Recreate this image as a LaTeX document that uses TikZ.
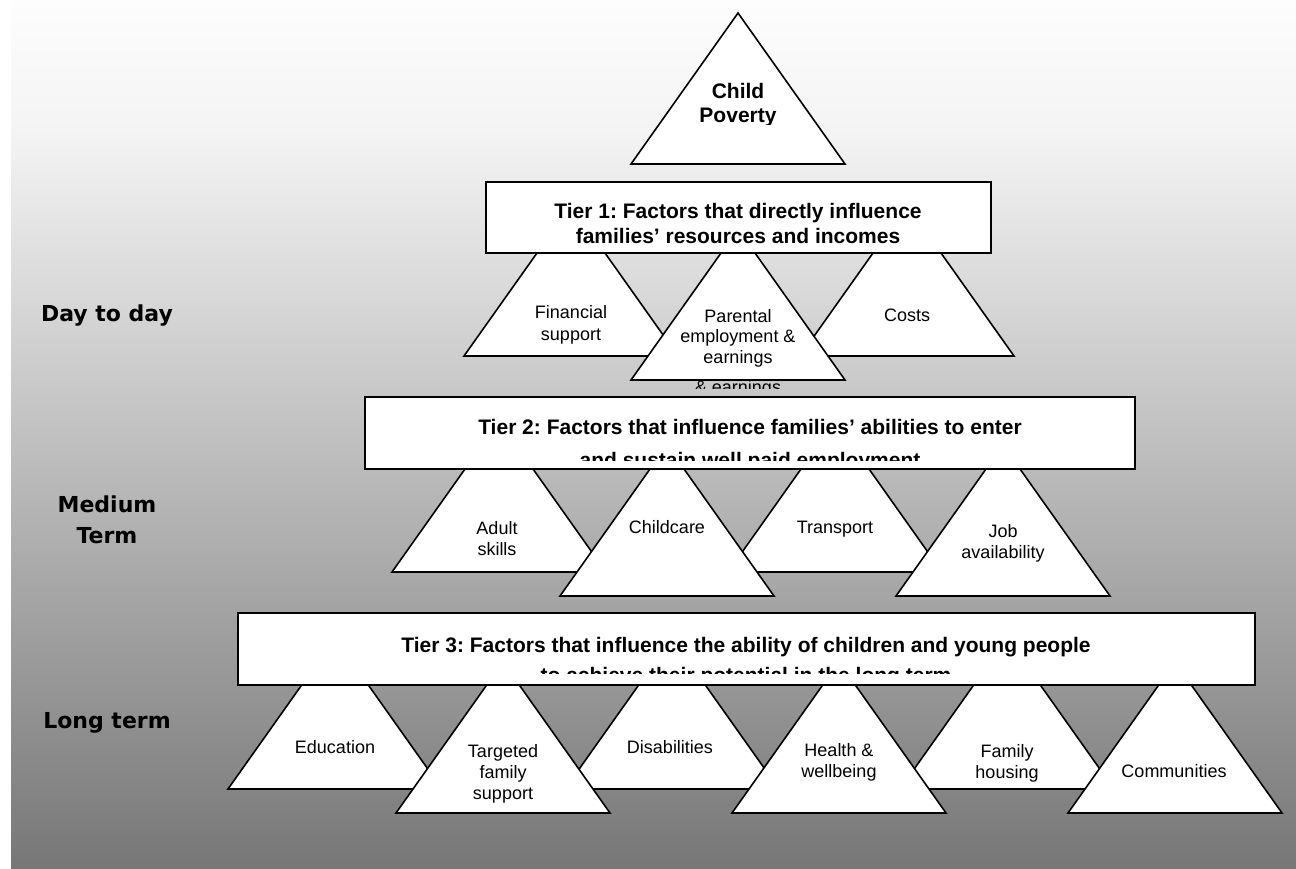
\documentclass[tikz,border=0pt]{standalone}
\usepackage{fontspec}
\setmainfont{Liberation Sans}
\newfontfamily\sidefont{DejaVu Sans}
\frenchspacing
\newcommand\pvtri[3]{%
  \filldraw[tri] (#2-107,#3) -- (#2,#3-151) -- (#2+107,#3) -- cycle;
  \coordinate (#1) at (#2,#3-151);}
\tikzset{
  tri/.style={fill=white, draw=black, line width=1.6pt, line join=miter},
  hbox/.style={fill=white, draw=black, line width=1.6pt},
  hdr/.style={font=\fontsize{21}{25}\selectfont\bfseries, inner sep=0pt, anchor=base},
  lbl/.style={font=\fontsize{18}{21}\selectfont, inner sep=0pt, anchor=base},
  side/.style={font=\sidefont\fontsize{22}{30}\selectfont\bfseries, inner sep=0pt, anchor=base}
}
\begin{document}
\begin{tikzpicture}[x=1pt,y=-1pt]
\useasboundingbox (0,0) rectangle (1296,868);
\fill[white] (0,0) rectangle (1296,868);
% background
\shade[top color={rgb,255:red,253;green,253;blue,253}, bottom color={rgb,255:red,244;green,244;blue,244}] (11,0) rectangle (1296,130.5);
\shade[top color={rgb,255:red,244;green,244;blue,244}, bottom color={rgb,255:red,119;green,119;blue,119}] (11,130) rectangle (1296,868);

% side labels
\node[side] (dd) at (107,321) {Day to day};
\node[side] (mt1) at (107,512) {Medium};
\node[side] (mt2) at (107,543) {Term};
\node[side] (lt) at (107,728) {Long term};

% Child poverty
\pvtri{cp}{738}{164}
\begin{scope}
\clip (640,60) rectangle (840,124);
\node[hdr] (cp1) at (738,98) {Child};
\node[hdr] (cp2) at (738,122) {Poverty};
\end{scope}

% Tier 1
\pvtri{fs}{571}{356}
\pvtri{co}{907}{356}
\begin{scope}
\clip (600,381) rectangle (880,388);
\node[lbl] (pe4) at (738,393) {\& earnings};
\end{scope}
\pvtri{pe}{738}{380}
\node[lbl] (fs1) at (571,318) {Financial};
\node[lbl] (fs2) at (571,340) {support};
\node[lbl] (co1) at (907,321) {Costs};
\node[lbl] (pe1) at (738,322) {Parental};
\node[lbl] (pe2) at (738,342) {employment \&};
\node[lbl] (pe3) at (738,363) {earnings};
\filldraw[hbox] (486,182) rectangle (991,253);
\node[hdr] (t1a) at (738,218) {Tier 1: Factors that directly influence};
\node[hdr] (t1b) at (738,243) {families’ resources and incomes};

% Tier 2
\pvtri{as}{499}{572}
\pvtri{tr}{835}{572}
\pvtri{cc}{667}{596}
\pvtri{ja}{1003}{596}
\node[lbl] (as1) at (497,534) {Adult};
\node[lbl] (as2) at (497,555) {skills};
\node[lbl] (cc1) at (667,533) {Childcare};
\node[lbl] (tr1) at (835,533) {Transport};
\node[lbl] (ja1) at (1003,537) {Job};
\node[lbl] (ja2) at (1003,558) {availability};
\filldraw[hbox] (365,397) rectangle (1135,469);
\begin{scope}
\clip (370,400) rectangle (1130,460);
\node[hdr] (t2a) at (750,434) {Tier 2: Factors that influence families’ abilities to enter};
\node[hdr] (t2b) at (750,467) {and sustain well paid employment};
\end{scope}

% Tier 3
\pvtri{ed}{335}{789}
\pvtri{di}{672}{789}
\pvtri{fh}{1007}{789}
\pvtri{tf}{503}{813}
\pvtri{hw}{839}{813}
\pvtri{cm}{1175}{813}
\node[lbl] (ed1) at (335,753) {Education};
\node[lbl] (di1) at (670,753) {Disabilities};
\node[lbl] (fh1) at (1007,757) {Family};
\node[lbl] (fh2) at (1007,778) {housing};
\node[lbl] (tf1) at (503,757) {Targeted};
\node[lbl] (tf2) at (503,778) {family};
\node[lbl] (tf3) at (503,799) {support};
\node[lbl] (hw1) at (839,756) {Health \&};
\node[lbl] (hw2) at (839,777) {wellbeing};
\node[lbl] (cm1) at (1174,777) {Communities};
\filldraw[hbox] (238,613) rectangle (1255,685);
\begin{scope}
\clip (243,616) rectangle (1250,673);
\node[hdr] (t3a) at (746,652) {Tier 3: Factors that influence the ability of children and young people};
\node[hdr] (t3b) at (746,682) {to achieve their potential in the long term};
\end{scope}
\end{tikzpicture}
\end{document}
